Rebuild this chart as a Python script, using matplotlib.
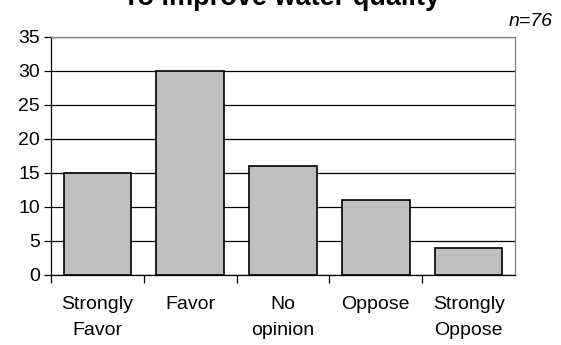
import matplotlib
matplotlib.use("Agg")
import matplotlib.pyplot as plt
import numpy as np

categories = ["Strongly\nFavor", "Favor", "No\nopinion", "Oppose", "Strongly\nOppose"]
counts = [15, 30, 16, 11, 4]
y_ticks = [0, 5, 10, 15, 20, 25, 30, 35]
title = "To improve water quality"
n_label = "n=76"

plt.rcParams["font.family"] = ["Liberation Sans", "DejaVu Sans"]

fig = plt.figure(figsize=(5.61, 3.45), dpi=100)
ax = fig.add_axes([0.0909, 0.2029, 0.8271, 0.6899])

x = np.arange(len(categories))
ax.bar(x, counts, width=0.73, color="#c0c0c0", edgecolor="black", linewidth=1.2, zorder=3)

ax.set_xlim(-0.5, len(categories) - 0.5)
ax.set_ylim(0, 35)
ax.set_yticks(y_ticks)
ax.set_yticklabels([str(v) for v in y_ticks], fontsize=14)
ax.yaxis.grid(True, color="black", linewidth=0.9, zorder=0)

# category ticks sit on the boundaries, labels in the middle
ax.set_xticks(np.arange(len(categories)) - 0.5)
ax.set_xticklabels([])
ax.set_xticks(x, minor=True)
ax.set_xticklabels(categories, minor=True, fontsize=14, linespacing=1.7)
ax.tick_params(axis="x", which="minor", length=0, pad=15)
ax.tick_params(axis="x", which="major", direction="out", length=6, width=0.9)
ax.tick_params(axis="y", direction="out", length=5, width=0.9, pad=3)

ax.spines["left"].set_color("black")
ax.spines["bottom"].set_color("black")
ax.spines["top"].set_color("#808080")
ax.spines["right"].set_color("#808080")
for s in ax.spines.values():
    s.set_linewidth(0.9)

fig.text(282 / 561, 1 - 5 / 345, title, ha="center", va="baseline",
         fontsize=19.5, fontweight="bold")
fig.text(553 / 561, 1 - 26 / 345, n_label, ha="right", va="baseline",
         fontsize=14, style="italic")

fig.savefig("out.png", dpi=100)
